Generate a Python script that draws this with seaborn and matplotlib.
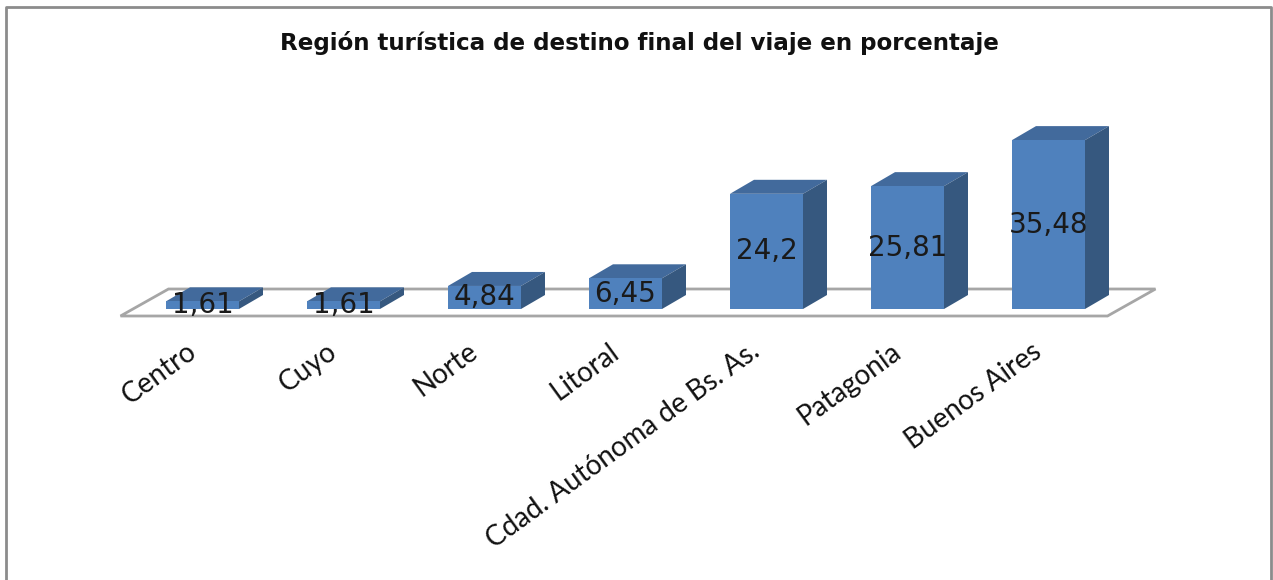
import pandas as pd
import seaborn as sns
import matplotlib.pyplot as plt
from matplotlib.lines import Line2D
from matplotlib.patches import Polygon
from matplotlib.transforms import ScaledTranslation

regions = ['Centro', 'Cuyo', 'Norte', 'Litoral', 'Cdad. Autónoma de Bs. As.', 'Patagonia', 'Buenos Aires']
percent = [1.61, 1.61, 4.84, 6.45, 24.2, 25.81, 35.48]

FIG_W, FIG_H = 1273, 580
SPACING = 141       # px between bars
BAR_W = 73          # px
PX_PER_UNIT = 4.76  # px per percent
BASE_Y = 309        # px of y=0
FLOOR_Y = 316       # px of front floor edge
DEPTH_X, DEPTH_Y = 24, 14

FRONT = '#4f81bd'
TOP = '#426a9c'
SIDE = '#36587f'
GREY = '#a6a6a6'


def add_depth(ax, bars):
    """Adds the top and side faces that give the bars their 3D look."""
    dx = DEPTH_X / SPACING
    dy = DEPTH_Y / PX_PER_UNIT
    for bar in bars:
        x0 = bar.get_x()
        x1 = x0 + bar.get_width()
        h = bar.get_height()
        ax.add_patch(Polygon([(x0, h), (x1, h), (x1 + dx, h + dy), (x0 + dx, h + dy)],
                             facecolor=TOP, edgecolor='none', zorder=3))
        ax.add_patch(Polygon([(x1, 0), (x1 + dx, dy), (x1 + dx, h + dy), (x1, h)],
                             facecolor=SIDE, edgecolor='none', zorder=3))


def add_floor(ax):
    """Draws the grey floor the bars are standing on."""
    low = (BASE_Y - FLOOR_Y) / PX_PER_UNIT
    high = (BASE_Y - 289) / PX_PER_UNIT
    left = -82 / SPACING
    right = len(regions) - 1 + 59 / SPACING
    back = 48 / SPACING
    ax.add_patch(Polygon([(left, low), (right, low), (right + back, high), (left + back, high)],
                         closed=True, facecolor='white', edgecolor=GREY, linewidth=2,
                         clip_on=False, zorder=1))


sns.set_theme(style='white')
plt.rcParams['font.family'] = ['Lato', 'DejaVu Sans']

data = pd.DataFrame({'region': regions, 'percent': percent})

fig = plt.figure(figsize=(FIG_W / 100, FIG_H / 100), dpi=100)
ax = fig.add_axes([0, 1 - FLOOR_Y / FIG_H, 1, FLOOR_Y / FIG_H])
sns.barplot(data=data, x='region', y='percent', color=FRONT, saturation=1,
            width=BAR_W / SPACING, linewidth=0, ax=ax, zorder=4)

center0 = 202.5
ax.set_xlim(-center0 / SPACING, (FIG_W - center0) / SPACING)
ax.set_ylim((BASE_Y - FLOOR_Y) / PX_PER_UNIT, BASE_Y / PX_PER_UNIT)
ax.set_xlabel('')
ax.set_ylabel('')
ax.set_yticks([])
ax.patch.set_alpha(0)
for spine in ax.spines.values():
    spine.set_visible(False)

container = ax.containers[0]
add_floor(ax)
add_depth(ax, container)

value_labels = [str(v).replace('.', ',') for v in percent]
ax.bar_label(container, labels=value_labels, label_type='center', family='DejaVu Sans',
             fontsize=20, color='#1a1a1a', zorder=6)

ax.tick_params(axis='x', length=0, pad=16)
# tick labels end a little left of the bar centre
shift = ScaledTranslation(-17 / 100, 0, fig.dpi_scale_trans)
for label in ax.get_xticklabels():
    label.set_transform(label.get_transform() + shift)
plt.setp(ax.get_xticklabels(), rotation=36, ha='right', rotation_mode='anchor',
         fontsize=20, color='#111111')

fig.text(639 / FIG_W, 1 - 43 / FIG_H, 'Región turística de destino final del viaje en porcentaje',
         ha='center', va='center', family='DejaVu Sans', fontweight='bold', fontsize=16.6, color='#111111')

# outer frame, open at the bottom
frame_x0, frame_x1 = 6 / FIG_W, 1271 / FIG_W
frame_y = 1 - 7 / FIG_H
fig.add_artist(Line2D([frame_x0, frame_x0, frame_x1, frame_x1], [0, frame_y, frame_y, 0],
                      color='#8c8c8c', linewidth=2))

fig.savefig('out.png', dpi=100)
